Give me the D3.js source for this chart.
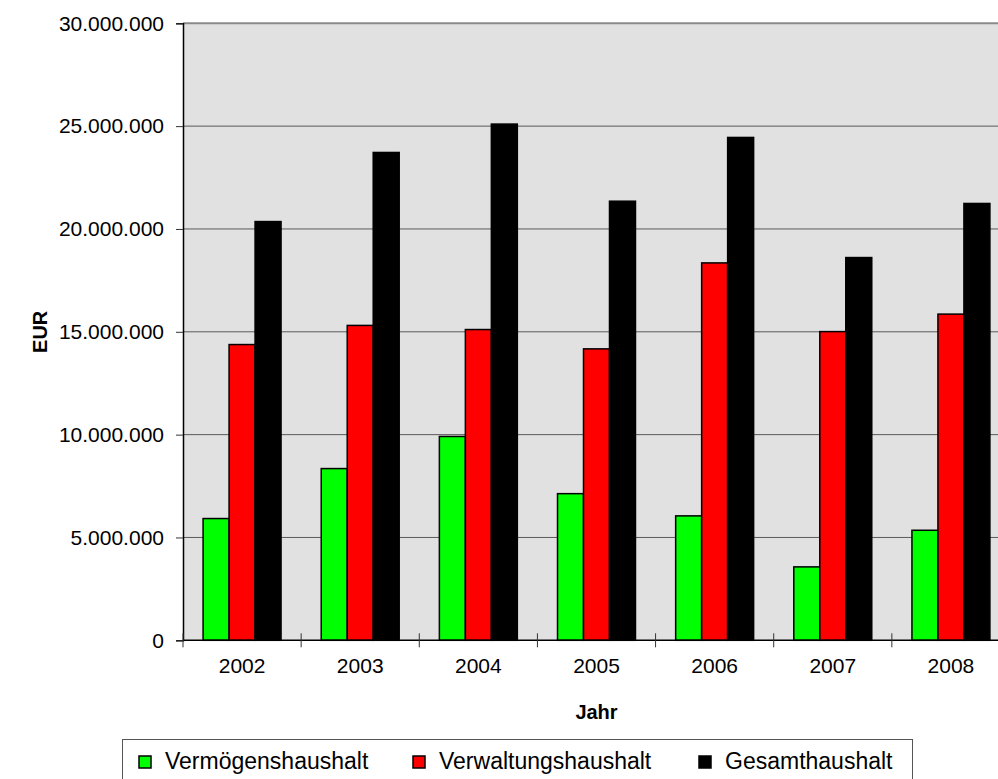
<!DOCTYPE html>
<html>
<head>
<meta charset="utf-8">
<script src="https://cdn.jsdelivr.net/npm/d3@7"></script>
<style>
  html, body { margin: 0; padding: 0; background: #fff; }
  svg { display: block; }
  text { font-family: "Liberation Sans", Arial, sans-serif; }
</style>
</head>
<body>
<svg id="chart" width="998" height="779"></svg>
<script>
const years = ["2002", "2003", "2004", "2005", "2006", "2007", "2008"];
const seriesNames = ["Vermögenshaushalt", "Verwaltungshaushalt", "Gesamthaushalt"];
const seriesColors = ["#00FF00", "#FF0000", "#000000"];
const vermoegen = [5920000, 8350000, 9910000, 7130000, 6050000, 3570000, 5350000];
const verwaltung = [14380000, 15310000, 15110000, 14170000, 18350000, 15010000, 15860000];
const gesamt = [20360000, 23720000, 25100000, 21350000, 24450000, 18610000, 21240000];
const yTicks = [0, 5000000, 10000000, 15000000, 20000000, 25000000, 30000000];
const yTickLabels = ["0", "5.000.000", "10.000.000", "15.000.000", "20.000.000", "25.000.000", "30.000.000"];

const seriesValues = [vermoegen, verwaltung, gesamt];

const svg = d3.select("#chart");
const mLeft = 183, mTop = 23.3, plotW = 827, plotH = 617;

const x0 = d3.scaleBand().domain(years).range([mLeft, mLeft + plotW]).paddingInner(0).paddingOuter(0);
const x1 = d3.scaleBand().domain(seriesNames).range([0, x0.bandwidth()]).paddingInner(0).paddingOuter(0.773);
const y = d3.scaleLinear().domain([0, 30000000]).range([mTop + plotH, mTop]);

// plot background
svg.append("rect").attr("x", mLeft).attr("y", mTop).attr("width", plotW).attr("height", plotH)
  .attr("fill", "#E1E1E1");

// gridlines
svg.append("g").selectAll("line").data(yTicks.slice(1)).join("line")
  .attr("x1", mLeft).attr("x2", mLeft + plotW)
  .attr("y1", d => y(d)).attr("y2", d => y(d))
  .attr("stroke", d => d === 30000000 ? "#8a8a8a" : "#5a5a5a").attr("stroke-width", d => d === 30000000 ? 2 : 1);

// bars
const groups = svg.append("g").selectAll("g").data(years).join("g")
  .attr("transform", d => `translate(${x0(d)},0)`);
groups.selectAll("rect").data((d, i) => seriesNames.map((s, j) => ({s, j, v: seriesValues[j][i]}))).join("rect")
  .attr("x", d => x1(d.s)).attr("width", x1.bandwidth())
  .attr("y", d => y(d.v)).attr("height", d => y(0) - y(d.v))
  .attr("fill", d => seriesColors[d.j]).attr("stroke", "#000").attr("stroke-width", 1.5);

// y axis
const yAxis = d3.axisLeft(y).tickValues(yTicks).tickFormat((d, i) => yTickLabels[i]).tickSize(7).tickPadding(12);
const ya = svg.append("g").attr("transform", `translate(${mLeft},0)`).call(yAxis);
ya.select(".domain").attr("stroke", "#000").attr("stroke-width", 1.5);
ya.selectAll(".tick line").attr("stroke", "#333");
ya.selectAll("text").attr("font-size", 21).attr("fill", "#000")
  .attr("font-family", "Liberation Sans, Arial, sans-serif");

// x axis with ticks at category boundaries
const xa = svg.append("g").attr("transform", `translate(0,${y(0)})`);
xa.append("line").attr("x1", mLeft).attr("x2", mLeft + plotW).attr("y1", 0).attr("y2", 0)
  .attr("stroke", "#000").attr("stroke-width", 1.5);
xa.selectAll("line.tk").data(years).join("line").attr("class", "tk")
  .attr("x1", d => x0(d)).attr("x2", d => x0(d)).attr("y1", -7).attr("y2", 7)
  .attr("stroke", "#333");
xa.selectAll("text").data(years).join("text")
  .attr("x", d => x0(d) + x0.bandwidth() / 2).attr("y", 33)
  .attr("text-anchor", "middle").attr("font-size", 21).text(d => d);

// axis titles
svg.append("text").attr("x", mLeft + plotW / 2).attr("y", 719).attr("text-anchor", "middle")
  .attr("font-size", 20).attr("font-weight", "bold").text("Jahr");
svg.append("text").attr("transform", `translate(47,${mTop + plotH / 2}) rotate(-90)`)
  .attr("text-anchor", "middle").attr("font-size", 20).attr("font-weight", "bold").text("EUR");

// legend
const lg = svg.append("g");
lg.append("rect").attr("x", 122.5).attr("y", 739.5).attr("width", 790).attr("height", 60)
  .attr("fill", "#fff").attr("stroke", "#555").attr("stroke-width", 1);
const legendX = [139, 413, 699];
const items = lg.selectAll("g.item").data(seriesNames).join("g").attr("class", "item")
  .attr("transform", (d, i) => `translate(${legendX[i]},756)`);
items.append("rect").attr("width", 12).attr("height", 12)
  .attr("fill", (d, i) => seriesColors[i]).attr("stroke", "#000").attr("stroke-width", 1.5);
items.append("text").attr("x", 26).attr("y", 13).attr("font-size", 23).text(d => d);
</script>
</body>
</html>
